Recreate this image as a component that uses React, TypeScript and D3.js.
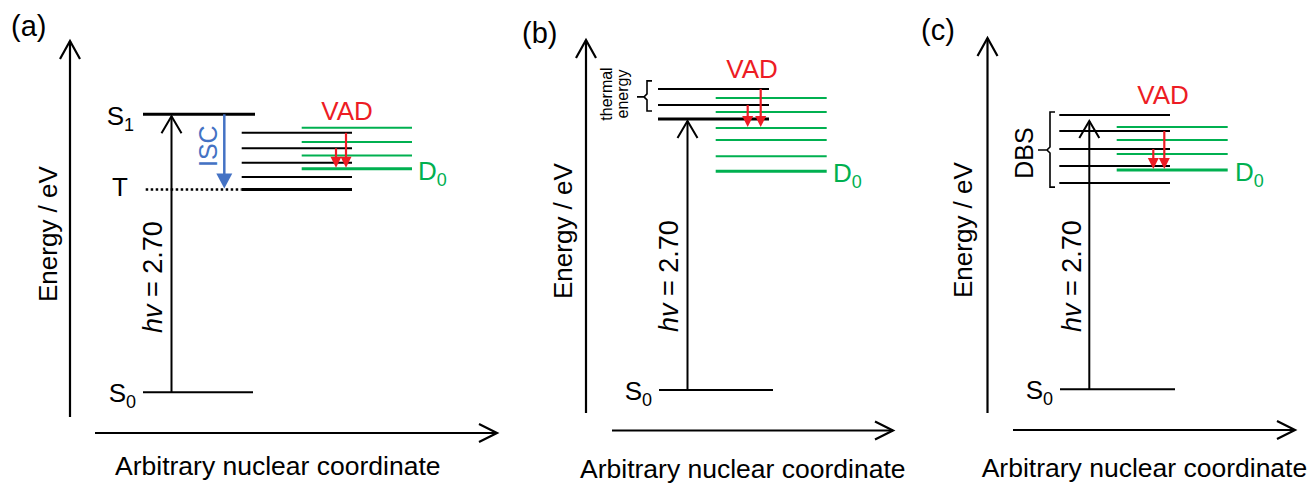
import * as d3 from 'd3';

// energies in eV, measured from S0
const photonEnergy = 2.7;

// panel (a): singlet excitation, ISC to triplet, VAD to D0
const aBlackLevels = [2.52, 2.37, 2.23, 2.09, 1.97];
const aGreenLevels = [2.57, 2.43, 2.3, 2.17];
const aTriplet = 1.97;
const aVad = [
  [2.37, 2.17],
  [2.52, 2.17],
];

// panel (b): thermally populated levels above the excited state
const bBlackLevels = [3.0, 2.84, 2.7];
const bGreenLevels = [2.91, 2.77, 2.61, 2.49, 2.33, 2.18];
const bVad = [
  [2.84, 2.61],
  [3.0, 2.61],
];

// panel (c): dipole-bound states
const cBlackLevels = [2.74, 2.58, 2.4, 2.23, 2.06];
const cGreenLevels = [2.62, 2.49, 2.35, 2.19];
const cVad = [
  [2.4, 2.19],
  [2.58, 2.19],
];

const RED = '#ed1c24';
const GREEN = '#00b050';
const BLUE = '#4472c4';
const FONT = '"Liberation Sans", Arial, sans-serif';

const panels = [
  {
    tag: '(a)', tagX: 11, tagY: 36,
    yAxisX: 70, yAxisTop: 41, yAxisBottom: 417,
    xAxisY: 433, xAxisLeft: 95, xAxisRight: 497,
    titleX: 115, titleY: 475, energyX: 57, energyY: 302,
    range: [392.3, 114.3],
    s0: [143, 253], pumpX: 171.5, hvX: 162, hvY: 333,
    black: aBlackLevels, blackX: [241.7, 352], blackThick: [4],
    green: aGreenLevels, greenX: [301.7, 412],
    vad: aVad, vadX: [336, 346], vadLabelX: 347, vadLabelY: 120,
    d0X: 418,
    s1: [143, 255], triplet: aTriplet, tripletX: [145.7, 241.7],
  },
  {
    tag: '(b)', tagX: 522, tagY: 43,
    yAxisX: 586, yAxisTop: 40, yAxisBottom: 413,
    xAxisY: 430.5, xAxisLeft: 612, xAxisRight: 893,
    titleX: 580, titleY: 478, energyX: 572, energyY: 299,
    range: [390, 119],
    s0: [659, 773], pumpX: 687.5, hvX: 678, hvY: 332,
    black: bBlackLevels, blackX: [658, 769], blackThick: [2],
    green: bGreenLevels, greenX: [715.7, 826.7],
    vad: bVad, vadX: [747.7, 760.7], vadLabelX: 752, vadLabelY: 78,
    d0X: 833,
    brace: { x: 647, tick: 637, top: 3.08, bottom: 2.78, mid: 2.92 },
  },
  {
    tag: '(c)', tagX: 921, tagY: 40,
    yAxisX: 987.5, yAxisTop: 38, yAxisBottom: 413,
    xAxisY: 430, xAxisLeft: 1013, xAxisRight: 1295,
    titleX: 981.7, titleY: 477, energyX: 972, energyY: 298,
    range: [389.3, 119],
    s0: [1060, 1175], pumpX: 1089.3, hvX: 1081, hvY: 332,
    black: cBlackLevels, blackX: [1059.3, 1170], blackThick: [],
    green: cGreenLevels, greenX: [1116.7, 1227.7],
    vad: cVad, vadX: [1153.3, 1164.3], vadLabelX: 1163, vadLabelY: 104,
    d0X: 1235,
    brace: { x: 1050, tick: 1038, top: 2.77, bottom: 2.02, mid: 2.39 },
  },
];

const chevronUp = (x: number, tip: number, w = 10, h = 18) =>
  `M${x - w},${tip + h}L${x},${tip}L${x + w},${tip + h}`;
const chevronRight = (tip: number, y: number, w = 9, h = 18) =>
  `M${tip - h},${y - w}L${tip},${y}L${tip - h},${y + w}`;

const Sub = ({ x, y, base, sub, color = '#000', anchor = 'end' }: any) => (
  <text x={x} y={y} fontSize={26} fill={color} textAnchor={anchor} fontFamily={FONT}>
    {base}
    <tspan fontSize={18} dy={6}>{sub}</tspan>
  </text>
);

const Panel = ({ p }: { p: any }) => {
  const y = d3.scaleLinear().domain([0, photonEnergy]).range(p.range);
  const lw = 2;
  const d0 = p.green[p.green.length - 1];

  // bracket with a small point in the middle
  const bracePath = (b: any) => {
    const t = y(b.top);
    const bt = y(b.bottom);
    const m = y(b.mid);
    return `M${b.x + 5},${t}L${b.x},${t}L${b.x},${m - 3}L${b.x - 3},${m}L${b.x},${m + 3}L${b.x},${bt}L${b.x + 5},${bt}M${b.x - 3},${m}L${b.tick},${m}`;
  };

  return (
    <g>
      <text x={p.tagX} y={p.tagY} fontSize={29} fontFamily={FONT}>{p.tag}</text>

      {/* axes */}
      <line x1={p.yAxisX} x2={p.yAxisX} y1={p.yAxisTop} y2={p.yAxisBottom} stroke="#000" strokeWidth={2.2} />
      <path d={chevronUp(p.yAxisX, p.yAxisTop)} fill="none" stroke="#000" strokeWidth={2.2} />
      <line x1={p.xAxisLeft} x2={p.xAxisRight} y1={p.xAxisY} y2={p.xAxisY} stroke="#000" strokeWidth={2.2} />
      <path d={chevronRight(p.xAxisRight, p.xAxisY)} fill="none" stroke="#000" strokeWidth={2.2} />
      <text x={p.titleX} y={p.titleY} fontSize={26.5} fontFamily={FONT}>Arbitrary nuclear coordinate</text>
      <text transform={`translate(${p.energyX},${p.energyY}) rotate(-90)`} fontSize={26} fontFamily={FONT}>
        Energy / eV
      </text>

      {/* ground state and excitation */}
      <line x1={p.s0[0]} x2={p.s0[1]} y1={y(0)} y2={y(0)} stroke="#000" strokeWidth={lw} />
      <Sub x={p.s0[0] - 7} y={y(0) + 10} base="S" sub="0" />
      <line x1={p.pumpX} x2={p.pumpX} y1={y(0)} y2={y(photonEnergy) + 2} stroke="#000" strokeWidth={lw} />
      <path d={chevronUp(p.pumpX, y(photonEnergy) + 2, 10, 17)} fill="none" stroke="#000" strokeWidth={lw} />
      <text transform={`translate(${p.hvX},${p.hvY}) rotate(-90)`} fontSize={27} fontFamily={FONT}>
        <tspan fontStyle="italic">hv</tspan> = {photonEnergy.toFixed(2)}
      </text>

      {/* neutral-side levels */}
      {p.black.map((e: number, i: number) => (
        <line key={'b' + i} x1={p.blackX[0]} x2={p.blackX[1]} y1={y(e)} y2={y(e)}
          stroke="#000" strokeWidth={p.blackThick.includes(i) ? 3 : lw} />
      ))}

      {/* anion levels */}
      {p.green.map((e: number, i: number) => (
        <line key={'g' + i} x1={p.greenX[0]} x2={p.greenX[1]} y1={y(e)} y2={y(e)}
          stroke={GREEN} strokeWidth={i === p.green.length - 1 ? 3 : lw} />
      ))}
      <Sub x={p.d0X} y={y(d0) + 11} base="D" sub="0" color={GREEN} anchor="start" />

      {/* VAD arrows */}
      {p.vad.map((v: number[], i: number) => {
        const x = p.vadX[i];
        const tip = y(v[1]) - 1;
        return (
          <g key={'v' + i}>
            <line x1={x} x2={x} y1={y(v[0])} y2={tip - 9} stroke={RED} strokeWidth={2.2} />
            <path d={`M${x - 5.5},${tip - 11}L${x + 5.5},${tip - 11}L${x},${tip}Z`} fill={RED} />
          </g>
        );
      })}
      <text x={p.vadLabelX} y={p.vadLabelY} textAnchor="middle" fontSize={26} fill={RED} fontFamily={FONT}>VAD</text>

      {/* panel (a) specific: S1, T and ISC */}
      {p.s1 && (
        <g>
          <line x1={p.s1[0]} x2={p.s1[1]} y1={y(photonEnergy)} y2={y(photonEnergy)} stroke="#000" strokeWidth={3} />
          <Sub x={p.s1[0] - 9} y={y(photonEnergy) + 11} base="S" sub="1" />
          <line x1={p.tripletX[0]} x2={p.tripletX[1]} y1={y(p.triplet)} y2={y(p.triplet)}
            stroke="#000" strokeWidth={2.5} strokeDasharray="2.5,2.5" />
          <text x={128} y={y(p.triplet) + 7} textAnchor="end" fontSize={26} fontFamily={FONT}>T</text>
          <line x1={224.3} x2={224.3} y1={y(photonEnergy)} y2={y(p.triplet) - 14} stroke={BLUE} strokeWidth={2.5} />
          <path d={`M${224.3 - 8},${y(p.triplet) - 16}L${224.3 + 8},${y(p.triplet) - 16}L${224.3},${y(p.triplet) - 1}Z`} fill={BLUE} />
          <text transform={`translate(216.5,167) rotate(-90)`} fontSize={25} fill={BLUE} fontFamily={FONT}>ISC</text>
        </g>
      )}

      {/* brackets */}
      {p.brace && (
        <path d={bracePath(p.brace)} fill="none" stroke="#000" strokeWidth={1.6} />
      )}
      {p.tag === '(b)' && (
        <g fontFamily={FONT} fontSize={16} textAnchor="middle">
          <text transform="translate(611.5,94) rotate(-90)">thermal</text>
          <text transform="translate(628,94) rotate(-90)">energy</text>
        </g>
      )}
      {p.tag === '(c)' && (
        <text transform="translate(1033,153) rotate(-90)" textAnchor="middle" fontSize={25} fontFamily={FONT}>DBS</text>
      )}
    </g>
  );
};

export default function App() {
  return (
    <svg width={1308} height={483} style={{ position: 'absolute', left: 0, top: 0, background: '#fff' }}>
      {panels.map((p) => (
        <Panel key={p.tag} p={p} />
      ))}
    </svg>
  );
}
